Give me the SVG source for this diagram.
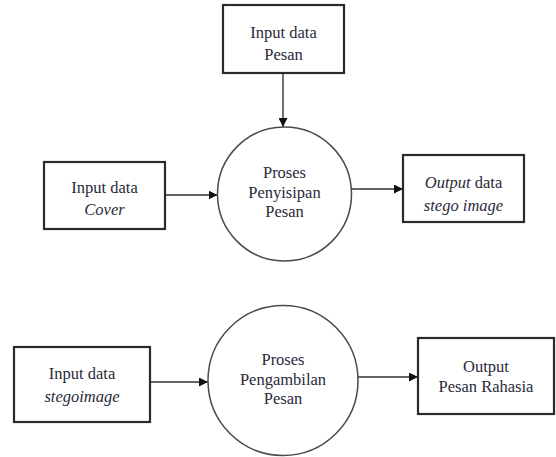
<svg xmlns="http://www.w3.org/2000/svg" width="556" height="457" viewBox="0 0 556 457">
<style>
.box{fill:#fff;stroke:#2a2a2a;stroke-width:2.2}
.proc{fill:#fff;stroke:#4a4a4a;stroke-width:1.5}
.t{font-family:'Liberation Serif','Times New Roman',serif;font-size:16.5px;fill:#2a2a3a;text-anchor:middle}
.i{font-style:italic}
.c{stroke:#333;stroke-width:1.4;fill:none;marker-end:url(#ah)}
</style>
<defs>
<marker id="ah" viewBox="0 0 10 10" refX="10" refY="5" markerWidth="9" markerHeight="9" markerUnits="userSpaceOnUse" orient="auto">
<path d="M0,0 L10,5 L0,10 z" fill="#111"/>
</marker>
</defs>
<rect width="556" height="457" fill="#fff"/>
<g id="connectors">
<line class="c" x1="283" y1="74" x2="283" y2="127"/>
<line class="c" x1="165" y1="195" x2="217.5" y2="195"/>
<line class="c" x1="351.5" y1="189" x2="403" y2="189"/>
<line class="c" x1="150" y1="382" x2="208" y2="382"/>
<line class="c" x1="358" y1="377" x2="418" y2="377"/>
</g>
<g id="input-pesan">
<rect class="box" x="223" y="5" width="121" height="68"/>
<text class="t" x="283.5" y="38">Input data</text>
<text class="t" x="283.5" y="60">Pesan</text>
</g>
<g id="input-cover">
<rect class="box" x="44" y="162" width="121" height="67"/>
<text class="t" x="104.5" y="193">Input data</text>
<text class="t i" x="104.5" y="215">Cover</text>
</g>
<g id="proses-penyisipan">
<circle class="proc" cx="284.5" cy="194" r="67"/>
<text class="t" x="284.5" y="178">Proses</text>
<text class="t" x="284.5" y="198">Penyisipan</text>
<text class="t" x="284.5" y="217">Pesan</text>
</g>
<g id="output-stego">
<rect class="box" x="403" y="155" width="121" height="67"/>
<text class="t" x="463.5" y="188"><tspan class="i">Output</tspan> data</text>
<text class="t i" x="463.5" y="211">stego image</text>
</g>
<g id="input-stegoimage">
<rect class="box" x="14" y="347" width="136" height="75"/>
<text class="t" x="82" y="379">Input data</text>
<text class="t i" x="82" y="402">stegoimage</text>
</g>
<g id="proses-pengambilan">
<circle class="proc" cx="283" cy="380.5" r="75"/>
<text class="t" x="283" y="365">Proses</text>
<text class="t" x="283" y="385">Pengambilan</text>
<text class="t" x="283" y="404">Pesan</text>
</g>
<g id="output-rahasia">
<rect class="box" x="418" y="338" width="136" height="76"/>
<text class="t" x="486" y="372">Output</text>
<text class="t" x="486" y="392">Pesan Rahasia</text>
</g>
</svg>
